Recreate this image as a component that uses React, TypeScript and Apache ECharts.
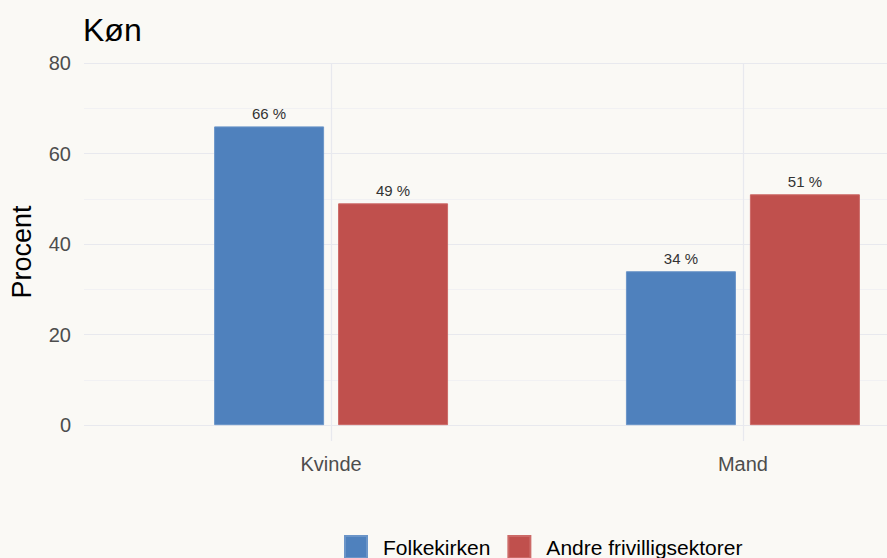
import React, { useEffect, useRef } from "react";
import * as echarts from "echarts";

const categories = ["Kvinde", "Mand"];
const categoryPositions = [1, 2];
const folkekirken = [66, 34];
const andre = [49, 51];
const yTicks = [0, 20, 40, 60, 80];
const yMinorTicks = [10, 30, 50, 70];
const seriesNames = ["Folkekirken", "Andre frivilligsektorer"];

const FONT = "'Liberation Sans', Arial, sans-serif";

export default function App() {
  const ref = useRef<HTMLDivElement>(null);
  useEffect(() => {
    document.body.style.margin = "0";
    const chart = echarts.init(ref.current!, null, { renderer: "svg" });
    const labelCfg = {
      show: true,
      position: "top" as const,
      distance: 5,
      fontSize: 15,
      color: "#333333",
      fontFamily: FONT,
      formatter: (p: any) => `${p.value[1]} %`,
    };
    chart.setOption({
      animation: false,
      backgroundColor: "#FAF9F5",
      textStyle: { fontFamily: FONT },
      title: {
        text: "Køn",
        left: 83,
        top: 14,
        padding: 0,
        textStyle: { fontSize: 32, fontWeight: "normal", color: "#000", fontFamily: FONT },
      },
      legend: {
        left: 344,
        top: 535,
        padding: 0,
        itemWidth: 22,
        itemHeight: 22,
        itemGap: 17,
        icon: "rect",
        textStyle: { fontSize: 21, color: "#000", fontFamily: FONT, padding: [0, 0, 0, 11] },
        data: seriesNames,
      },
      grid: {
        left: 84,
        top: 63,
        width: 906,
        height: 378,
        containLabel: false,
        outerBoundsMode: "none",
      },
      xAxis: {
        type: "value",
        min: 0.4,
        max: 2.6,
        axisLine: { show: false },
        axisTick: { show: false, customValues: categoryPositions },
        axisLabel: {
          customValues: categoryPositions,
          formatter: (v: number) => categories[categoryPositions.indexOf(v)] ?? "",
          fontSize: 20,
          color: "#4D4D4D",
          margin: 13,
          fontFamily: FONT,
        },
        splitLine: { show: true, lineStyle: { color: "#E8E9EE", width: 1.2 } },
      },
      yAxis: [
        {
          type: "value",
          min: -3.5,
          max: 80,
          name: "Procent",
          nameLocation: "middle",
          nameGap: 49,
          nameRotate: 90,
          nameTextStyle: { fontSize: 27, color: "#000", fontFamily: FONT },
          axisLine: { show: false },
          axisTick: { show: false, customValues: yTicks },
          axisLabel: {
            customValues: yTicks,
            fontSize: 20,
            color: "#4D4D4D",
            margin: 13,
            fontFamily: FONT,
          },
          splitLine: { show: true, lineStyle: { color: "#E8E9EE", width: 1.2 } },
        },
        {
          type: "value",
          min: -3.5,
          max: 80,
          position: "left",
          axisLine: { show: false },
          axisTick: { show: false, customValues: yMinorTicks },
          axisLabel: { show: false, customValues: yMinorTicks },
          splitLine: { show: true, lineStyle: { color: "#F1F1F3", width: 1 } },
        },
      ],
      series: [
        {
          name: seriesNames[0],
          type: "bar",
          barWidth: 110,
          barGap: "12.7%",
          data: categoryPositions.map((x, i) => [x, folkekirken[i]]),
          itemStyle: { color: "#4F81BD", borderColor: "#6B95C8", borderWidth: 1 },
          label: labelCfg,
        },
        {
          name: seriesNames[1],
          type: "bar",
          barWidth: 110,
          barGap: "12.7%",
          data: categoryPositions.map((x, i) => [x, andre[i]]),
          itemStyle: { color: "#C0504D", borderColor: "#CC6A67", borderWidth: 1 },
          label: labelCfg,
        },
      ],
    });
    return () => chart.dispose();
  }, []);
  return (
    <div
      ref={ref}
      style={{ position: "absolute", left: 0, top: 0, width: 887, height: 558, overflow: "hidden" }}
    />
  );
}
